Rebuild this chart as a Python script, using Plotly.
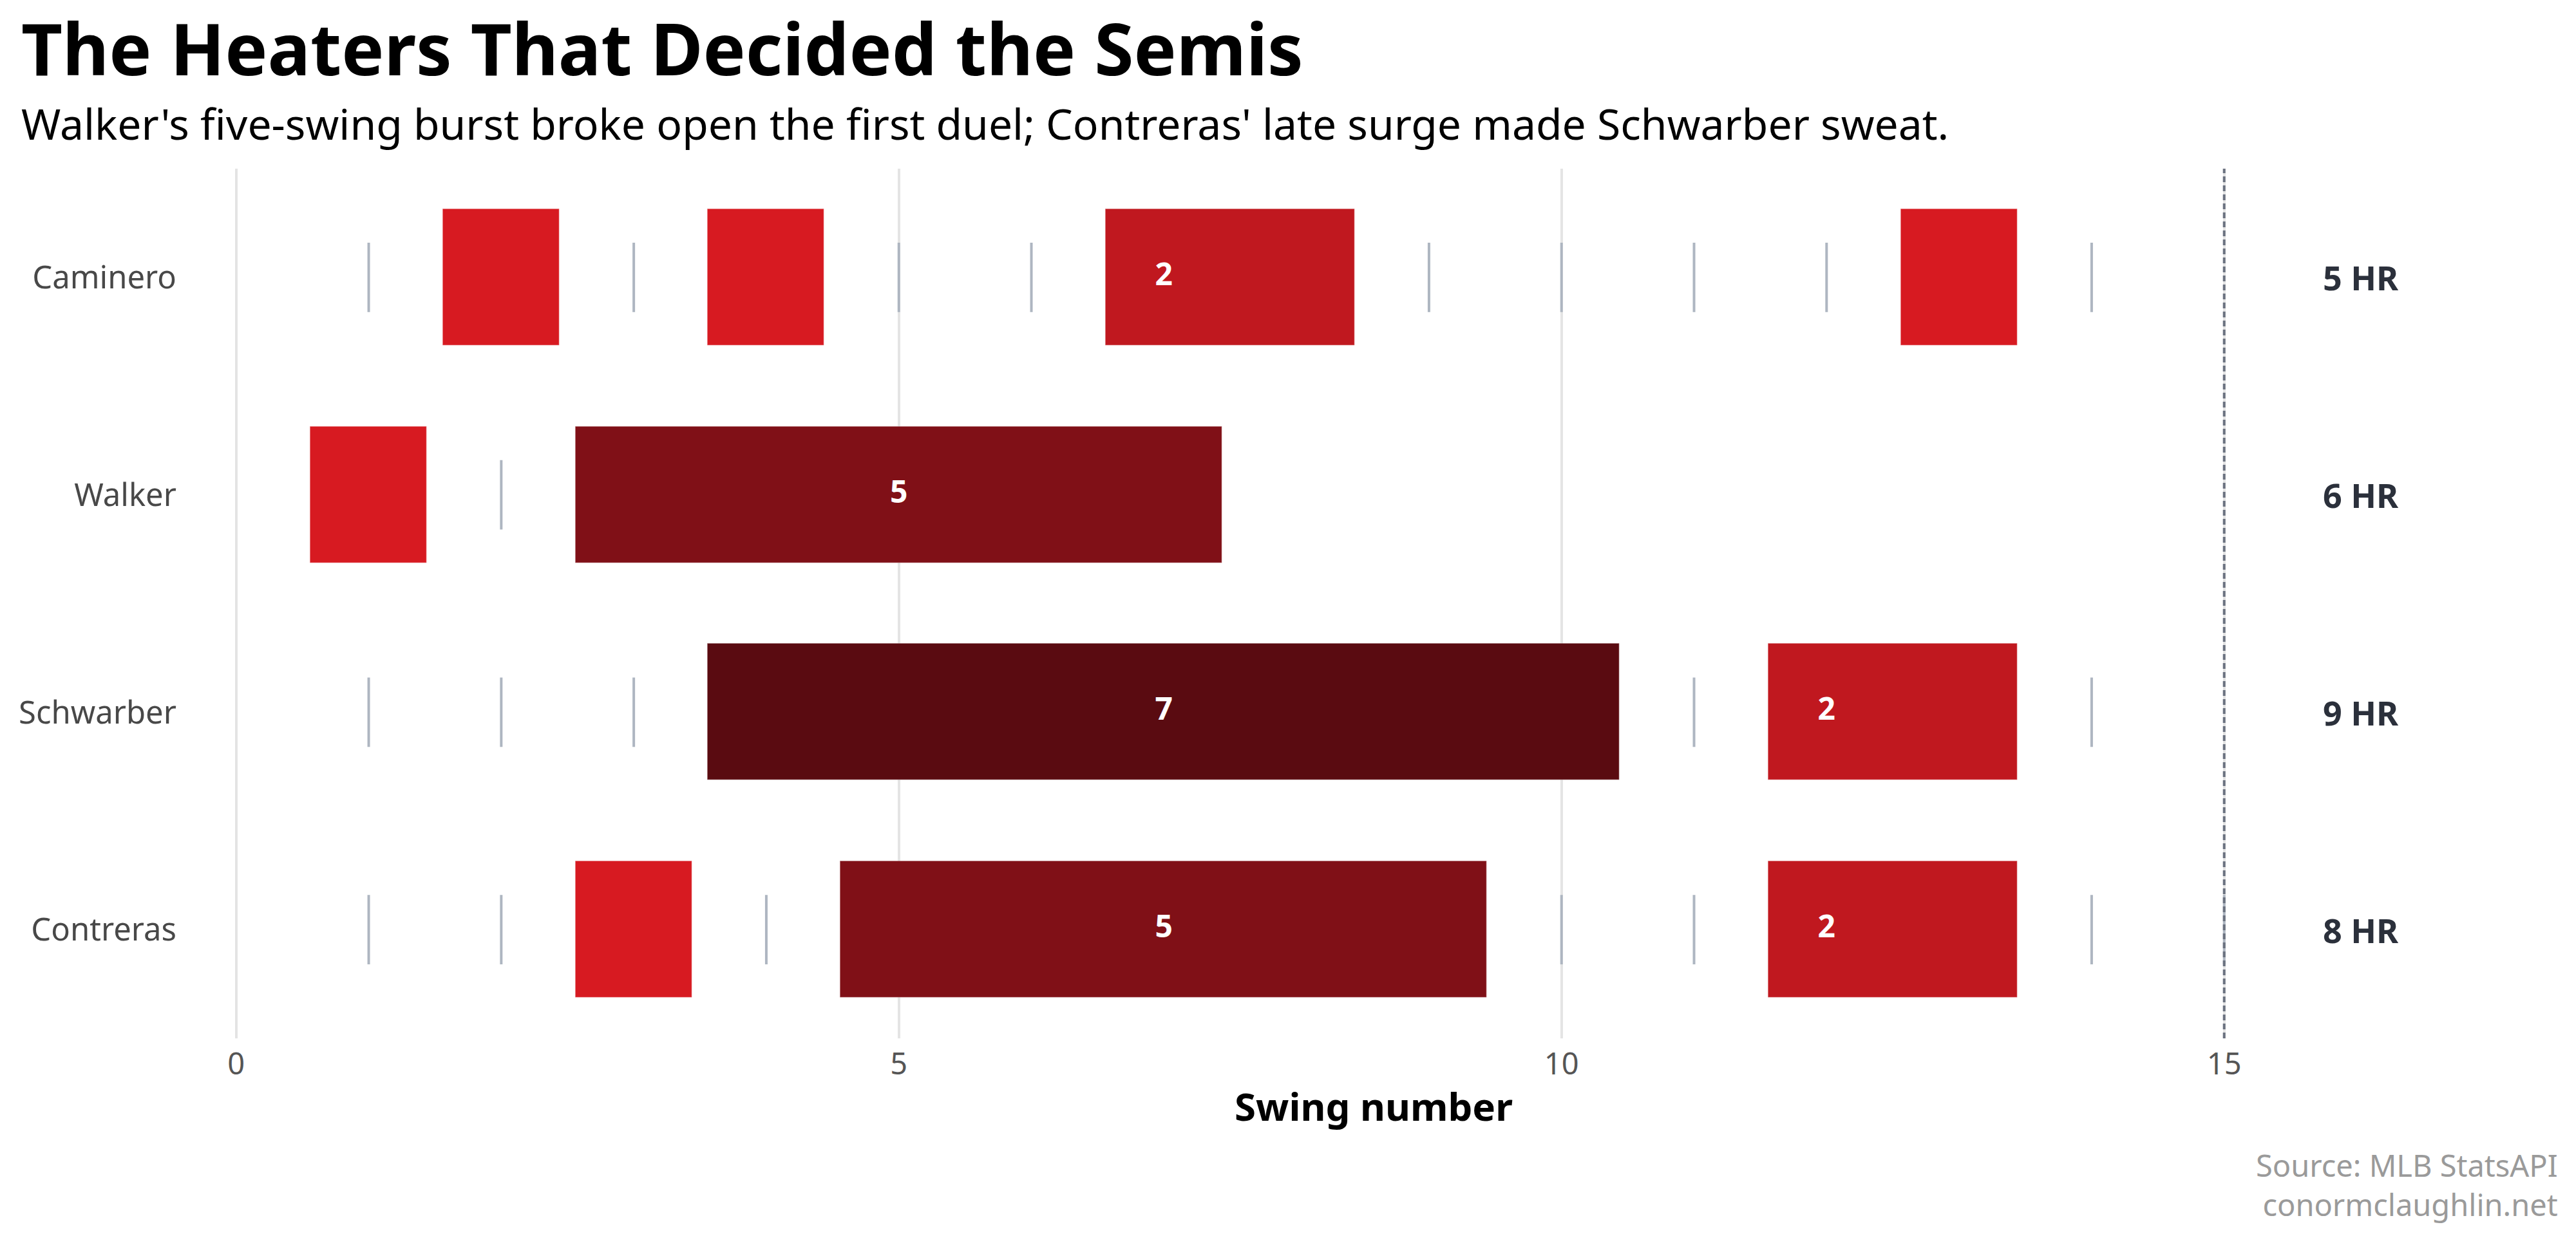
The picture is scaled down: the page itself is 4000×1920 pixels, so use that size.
import plotly.graph_objects as go

# ---- data ----
players = ["Caminero", "Walker", "Schwarber", "Contreras"]
# 1 = home run, 0 = no home run, per swing (swing 1 first)
caminero_swings = [0, 1, 0, 1, 0, 0, 1, 1, 0, 0, 0, 0, 1, 0]
walker_swings = [1, 0, 1, 1, 1, 1, 1]
schwarber_swings = [0, 0, 0, 1, 1, 1, 1, 1, 1, 1, 0, 1, 1, 0]
contreras_swings = [0, 0, 1, 0, 1, 1, 1, 1, 1, 0, 0, 1, 1, 0, 0]
swings_by_player = [caminero_swings, walker_swings, schwarber_swings, contreras_swings]
cutoff_swing = 15
x_ticks = [0, 5, 10, 15]

title = "The Heaters That Decided the Semis"
subtitle = "Walker's five-swing burst broke open the first duel; Contreras' late surge made Schwarber sweat."
source_lines = ["Source: MLB StatsAPI", "conormclaughlin.net"]

# ---- styles ----
FONT = "Noto Sans"
streak_colors = {1: "#d71a21", 2: "#c0181f", 3: "#a31419", 4: "#8f121a", 5: "#801017", 6: "#6c0e14", 7: "#5a0b11"}
HALF = 0.44

# ---- derive streaks ----
bar_y, bar_base, bar_len, bar_col = [], [], [], []
lab_x, lab_y, lab_t = [], [], []
miss_x, miss_y = [], []
for name, sw in zip(players, swings_by_player):
    i = 0
    n = len(sw)
    while i < n:
        if sw[i] == 1:
            j = i
            while j + 1 < n and sw[j + 1] == 1:
                j += 1
            start, end = i + 1, j + 1
            L = end - start + 1
            bar_y.append(name)
            bar_base.append(start - HALF)
            bar_len.append(end - start + 2 * HALF)
            bar_col.append(streak_colors.get(L, "#5a0b11"))
            if L >= 2:
                lab_x.append(start + (L - 1) // 2)
                lab_y.append(name)
                lab_t.append(str(L))
            i = j + 1
        else:
            miss_x.append(i + 1)
            miss_y.append(name)
            i += 1

hr_totals = [sum(s) for s in swings_by_player]

fig = go.Figure()
fig.add_trace(go.Scatter(
    x=miss_x, y=miss_y, mode="markers",
    marker=dict(symbol="line-ns", size=77, line=dict(width=4, color="#aeb6c1")),
    hoverinfo="skip", showlegend=False))
fig.add_trace(go.Bar(
    y=bar_y, x=bar_len, base=bar_base, orientation="h", width=0.627,
    marker=dict(color=bar_col, line=dict(width=1.5, color="rgba(255,255,255,0.25)")),
    showlegend=False))
fig.add_trace(go.Scatter(
    x=lab_x, y=lab_y, mode="text", text=lab_t, textposition="middle center",
    textfont=dict(family=FONT, size=48, color="white", weight="bold"),
    hoverinfo="skip", showlegend=False))

L_M, R_M, T_M, B_M = 305, 39, 262, 307
W, H = 4000, 1920
pw, ph = W - L_M - R_M, H - T_M - B_M

def px_x(p):
    return (p - L_M) / pw

def px_y(p):
    return (H - B_M - p) / ph

fig.add_shape(type="line", x0=cutoff_swing, x1=cutoff_swing, xref="x", yref="paper", y0=0, y1=1,
              line=dict(color="#6b7280", width=4, dash="9px,5px"), layer="above")

annotations = []
for name, tot in zip(players, hr_totals):
    annotations.append(dict(x=16.03, y=name, xref="x", yref="y", text=f"{tot} HR", showarrow=False,
                            font=dict(family=FONT, size=52, color="#2b303b", weight="bold"),
                            xanchor="center", yanchor="middle"))
annotations.append(dict(x=px_x(31), y=px_y(74), xref="paper", yref="paper", text=f"<b>{title}</b>",
                        showarrow=False, xanchor="left", yanchor="middle",
                        font=dict(family=FONT, size=111, color="black")))
annotations.append(dict(x=px_x(31), y=px_y(191), xref="paper", yref="paper", text=subtitle,
                        showarrow=False, xanchor="left", yanchor="middle",
                        font=dict(family=FONT, size=66, color="black")))
annotations.append(dict(x=px_x(3974), y=px_y(1840), xref="paper", yref="paper", text="<br>".join(source_lines),
                        showarrow=False, xanchor="right", yanchor="middle", align="right",
                        font=dict(family=FONT, size=47, color="#9a9a9a")))

fig.update_layout(
    width=W, height=H,
    margin=dict(l=L_M, r=R_M, t=T_M, b=B_M),
    paper_bgcolor="white", plot_bgcolor="white",
    font=dict(family=FONT),
    annotations=annotations,
    bargap=0,
    xaxis=dict(range=[-0.3, 17.465], tickvals=x_ticks, showgrid=True, gridcolor="#e4e4e4", gridwidth=4,
               zeroline=False, showline=False, ticks="", ticklabelstandoff=8,
               tickfont=dict(family=FONT, size=47, color="#555555"),
               title=dict(text="<b>Swing number</b>", font=dict(family=FONT, size=60, color="black"), standoff=16)),
    yaxis=dict(categoryorder="array", categoryarray=players, range=[3.5, -0.5], showgrid=False,
               zeroline=False, showline=False, ticks="", ticklabelstandoff=30,
               tickfont=dict(family=FONT, size=49, color="#484848")),
)

fig.write_html("out.html")
